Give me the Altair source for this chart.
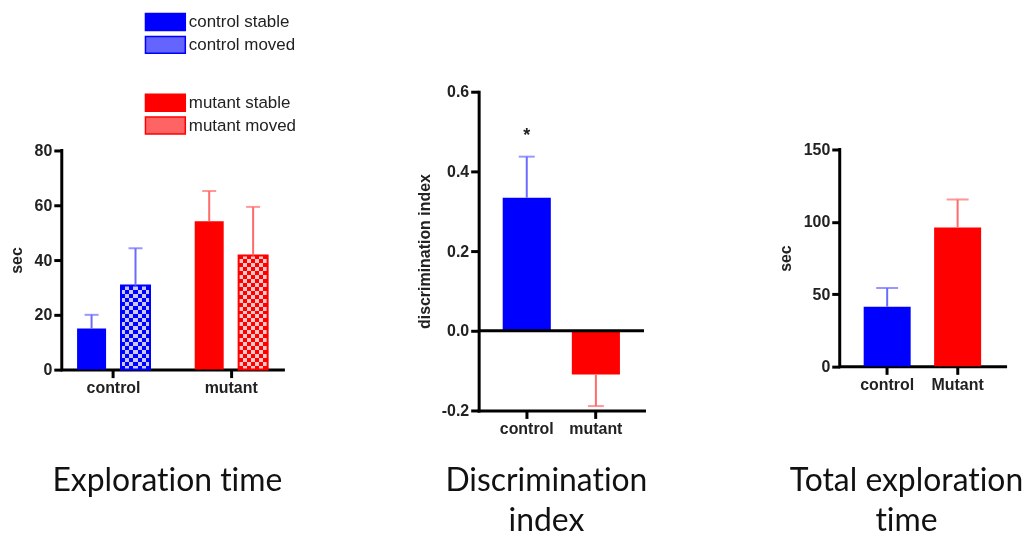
import altair as alt
import pandas as pd

# ---------------- data ----------------
expl_group = ["control", "control", "mutant", "mutant"]
expl_cond = ["stable", "moved", "stable", "moved"]
expl_mean = [15.0, 30.7, 54.2, 41.7]
expl_sem = [5.0, 13.6, 11.0, 17.7]
expl_ticks = [0, 20, 40, 60, 80]

di_group = ["control", "mutant"]
di_mean = [0.334, -0.110]
di_sem = [0.103, 0.079]
di_ticks = [-0.2, 0.0, 0.2, 0.4, 0.6]
sig_group = ["control"]
sig_text = ["*"]
sig_value = [0.49]

tot_group = ["control", "Mutant"]
tot_mean = [41.3, 96.1]
tot_sem = [12.9, 19.3]
tot_ticks = [0, 50, 100, 150]

legend_control = ["control stable", "control moved"]
legend_mutant = ["mutant stable", "mutant moved"]

# zero-width non-joiner keeps the caption font from fusing "ti" into a ligature
ZWNJ = "\u200c"
captions = [["Explorat" + ZWNJ + "ion t" + ZWNJ + "ime"],
            ["Discriminat" + ZWNJ + "ion", "index"],
            ["Total explorat" + ZWNJ + "ion", "t" + ZWNJ + "ime"]]

# ---------------- style ----------------
BLUE, RED = "#0000ff", "#ff0000"
BLUE_LIGHT, RED_LIGHT = "#c8c8ff", "#ffc8c8"      # light checker cells
BLUE_D, RED_D = "#c8c800", "#00c8c8"              # difference colours swapping the two cells
BLUE_MIX, RED_MIX = "#6464ff", "#ff6464"          # legend swatches for checkered bars
BLUE_ERR, RED_ERR = "#6b6bff", "#ff6b6b"
TXT = "#222222"
AX_FONT = "Liberation Sans"
CAP_FONT = "Lato"

H = 320
CELL = 4.0
L_DOM = [-14.91, 101.45]
M_DOM = [-0.2, 0.6]
R_DOM = [-30.5, 190.0]
L_PX = H / (L_DOM[1] - L_DOM[0])
R_PX = H / (R_DOM[1] - R_DOM[0])

ONE = alt.Data(values=[{}])


def stripes(c1, c2, n, along_x):
    stops = []
    for k in range(n):
        col = c1 if k % 2 == 0 else c2
        stops.append(alt.GradientStop(color=col, offset=k / n))
        stops.append(alt.GradientStop(color=col, offset=(k + 1) / n))
    if along_x:
        return alt.LinearGradient(gradient="linear", stops=stops, x1=0, y1=0, x2=1, y2=0)
    return alt.LinearGradient(gradient="linear", stops=stops, x1=0, y1=0, x2=0, y2=1)


def caption(lines, dx, offset):
    return alt.TitleParams(text=lines, orient="bottom", anchor="middle", dx=dx, offset=offset,
                           font=CAP_FONT, fontSize=32, fontWeight="normal", color="#111111",
                           lineHeight=40, baseline="top")


def legend_params(y, stroke):
    return alt.Legend(title=None, orient="none", legendX=94.5, legendY=y, direction="vertical",
                      symbolType="M-2.353,-1H2.353V1H-2.353Z", symbolSize=289,
                      symbolStrokeWidth=1.5, symbolStrokeColor=stroke, symbolOpacity=1,
                      labelFont=AX_FONT, labelFontSize=17, labelColor=TXT, labelOffset=14,
                      rowPadding=0, padding=0)


def grp_color(a, b, first):
    return alt.when(alt.datum.group == first).then(alt.value(a)).otherwise(alt.value(b))


# ---------------- left: exploration time ----------------
expl = pd.DataFrame(dict(group=expl_group, cond=expl_cond, mean=expl_mean, sem=expl_sem))
expl["label"] = expl["group"] + " " + expl["cond"]
expl["top"] = expl["mean"] + expl["sem"]

xl = alt.X("group:N", scale=alt.Scale(domain=["control", "mutant"], paddingInner=0.38, paddingOuter=0.13),
           axis=alt.Axis(title=None, labelAngle=0, offset=-(0 - L_DOM[0]) * L_PX, domain=True))
xol = alt.XOffset("cond:N", scale=alt.Scale(domain=["stable", "moved"], paddingInner=0.34, paddingOuter=0))


def yl(field):
    return alt.Y(field, type="quantitative", scale=alt.Scale(domain=L_DOM, nice=False, zero=False),
                 axis=alt.Axis(values=expl_ticks, domain=False, title="sec", titleY=169, titlePadding=10))


lbase = alt.Chart(expl)
ctrl_bars = lbase.transform_filter("datum.group == 'control'").mark_bar().encode(
    x=xl, xOffset=xol, y=yl("mean"), y2=alt.datum(0),
    fill=alt.Fill("label:N", scale=alt.Scale(domain=legend_control, range=[BLUE, BLUE_MIX]),
                  legend=legend_params(-79.5, BLUE)))
mut_bars = lbase.transform_filter("datum.group == 'mutant'").mark_bar().encode(
    x=xl, xOffset=xol, y=yl("mean"), y2=alt.datum(0),
    fill=alt.Fill("label:N", scale=alt.Scale(domain=legend_mutant, range=[RED, RED_MIX]),
                  legend=legend_params(1.5, RED)))

pattern_layers = []
for grp, P, Q, D in [("control", BLUE, BLUE_LIGHT, BLUE_D), ("mutant", RED, RED_LIGHT, RED_D)]:
    row = expl[(expl.group == grp) & (expl.cond == "moved")].iloc[0]
    nrows = max(2, int(round(row["mean"] * L_PX / CELL)))
    sub = lbase.transform_filter(f"datum.label == '{grp} moved'")
    pattern_layers.append(sub.mark_bar(fill=stripes(P, Q, 7, True)).encode(
        x=xl, xOffset=xol, y=yl("mean"), y2=alt.datum(0)))
    pattern_layers.append(sub.mark_bar(fill=stripes("#000000", D, nrows, False), blend="difference").encode(
        x=xl, xOffset=xol, y=yl("mean"), y2=alt.datum(0)))
    pattern_layers.append(sub.mark_bar(fillOpacity=0, stroke=P, strokeWidth=2).encode(
        x=xl, xOffset=xol, y=yl("mean"), y2=alt.datum(0)))

l_err = lbase.mark_rule(strokeWidth=2).encode(
    x=xl, xOffset=xol, y=yl("mean"), y2="top:Q", stroke=grp_color(BLUE_ERR, RED_ERR, "control"))
l_cap = lbase.mark_tick(thickness=2, size=14).encode(
    x=xl, xOffset=xol, y=yl("top"), color=grp_color(BLUE_ERR, RED_ERR, "control"))
l_axis = alt.Chart(ONE).mark_rule(color="black", strokeWidth=3, strokeCap="square").encode(
    x=alt.value(0), y=alt.datum(expl_ticks[0]), y2=alt.datum(expl_ticks[-1]))

left = alt.layer(ctrl_bars, mut_bars, *pattern_layers, l_err, l_cap, l_axis).resolve_scale(
    fill="independent").properties(width=222, height=H, title=caption(captions[0], -5, 56))

# ---------------- middle: discrimination index ----------------
di = pd.DataFrame(dict(group=di_group, mean=di_mean, sem=di_sem))
sig = pd.DataFrame(dict(group=sig_group, text=sig_text, value=sig_value))

xm = alt.X("group:N", scale=alt.Scale(domain=di_group, paddingInner=0.304, paddingOuter=0.348),
           axis=alt.Axis(title=None, labelAngle=0))

DI_LABEL = "datum.value < 0 ? '-' + format(-datum.value, '.1f') : format(datum.value, '.1f')"


def ym(field):
    return alt.Y(field, type="quantitative", scale=alt.Scale(domain=M_DOM, nice=False, zero=False),
                 axis=alt.Axis(values=di_ticks, labelExpr=DI_LABEL, title="discrimination index",
                               titlePadding=9))


mbase = alt.Chart(di).transform_calculate(
    end="datum.mean >= 0 ? datum.mean + datum.sem : datum.mean - datum.sem")
m_bars = mbase.mark_bar().encode(x=xm, y=ym("mean"), y2=alt.datum(0),
                                 fill=grp_color(BLUE, RED, "control"))
m_err = mbase.mark_rule(strokeWidth=2).encode(x=xm, y=ym("mean"), y2="end:Q",
                                              stroke=grp_color(BLUE_ERR, RED_ERR, "control"))
m_cap = mbase.mark_tick(thickness=2, size=16).encode(x=xm, y=ym("end:Q"),
                                                      color=grp_color(BLUE_ERR, RED_ERR, "control"))
m_zero = alt.Chart(ONE).mark_rule(color="black", strokeWidth=3).encode(y=alt.datum(0))
m_sig = alt.Chart(sig).mark_text(font=AX_FONT, fontSize=18, fontWeight="bold", color=TXT,
                                 baseline="middle").encode(x=xm, y=ym("value"), text="text:N")

middle = alt.layer(m_bars, m_err, m_cap, m_zero, m_sig).properties(
    width=166, height=H, title=caption(captions[1], -15, 30))

# ---------------- right: total exploration time ----------------
tot = pd.DataFrame(dict(group=tot_group, mean=tot_mean, sem=tot_sem))
tot["top"] = tot["mean"] + tot["sem"]

xr = alt.X("group:N", scale=alt.Scale(domain=tot_group, paddingInner=0.333, paddingOuter=0.34),
           axis=alt.Axis(title=None, labelAngle=0, offset=-(0 - R_DOM[0]) * R_PX, domain=True))


def yr(field):
    return alt.Y(field, type="quantitative", scale=alt.Scale(domain=R_DOM, nice=False, zero=False),
                 axis=alt.Axis(values=tot_ticks, domain=False, title="sec", titleY=167, titlePadding=10))


rbase = alt.Chart(tot)
r_bars = rbase.mark_bar().encode(x=xr, y=yr("mean"), y2=alt.datum(0),
                                 fill=grp_color(BLUE, RED, "control"))
r_err = rbase.mark_rule(strokeWidth=2).encode(x=xr, y=yr("mean"), y2="top:Q",
                                              stroke=grp_color(BLUE_ERR, RED_ERR, "control"))
r_cap = rbase.mark_tick(thickness=2, size=22).encode(x=xr, y=yr("top"),
                                                      color=grp_color(BLUE_ERR, RED_ERR, "control"))
r_axis = alt.Chart(ONE).mark_rule(color="black", strokeWidth=3, strokeCap="square").encode(
    x=alt.value(0), y=alt.datum(tot_ticks[0]), y2=alt.datum(tot_ticks[-1]))

right = alt.layer(r_bars, r_err, r_cap, r_axis).properties(
    width=166, height=H, title=caption(captions[2], -16, 56))

chart = alt.hconcat(left, middle, right, spacing=196.5, bounds="flush").configure_view(
    stroke=None
).configure_axis(
    labelFont=AX_FONT, labelFontSize=16, labelFontWeight="bold", labelColor=TXT,
    titleFont=AX_FONT, titleFontSize=16, titleFontWeight="bold", titleColor=TXT,
    domainColor="black", domainWidth=3, domainCap="square", tickColor="black", tickWidth=3,
    tickSize=8, labelPadding=2, grid=False
).properties(padding={"left": 0, "top": 3, "right": 0, "bottom": 0})

chart.save("out.html", embed_options={"renderer": "svg", "actions": False})
